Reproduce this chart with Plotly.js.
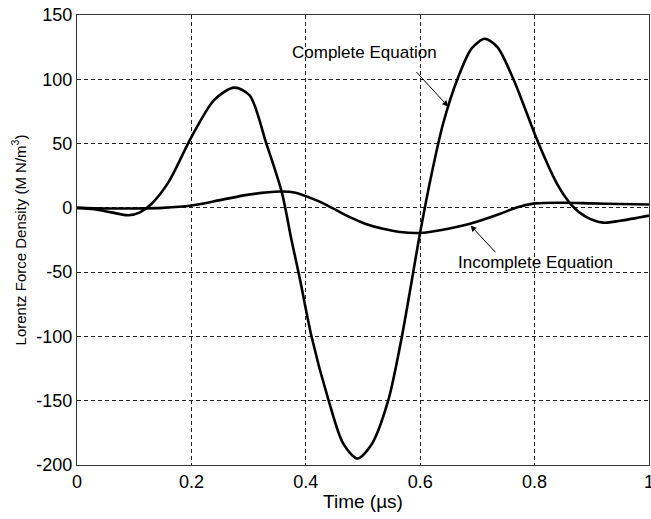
<!DOCTYPE html>
<html>
<head>
<meta charset="utf-8">
<script src="https://cdn.plot.ly/plotly-3.0.1.min.js"></script>
<style>html,body{margin:0;padding:0;background:#fff;}#chart{width:651px;height:519px;}</style>
</head>
<body>
<div id="chart"></div>
<script>
const completeT = [0, 0.03, 0.06, 0.09, 0.11, 0.13, 0.16, 0.2, 0.24, 0.275, 0.302, 0.331, 0.358, 0.375, 0.39, 0.41, 0.44, 0.465, 0.49, 0.515, 0.544, 0.568, 0.6, 0.62, 0.64, 0.665, 0.69, 0.713, 0.735, 0.763, 0.807, 0.84, 0.865, 0.89, 0.92, 0.95, 1.0];
const completeF = [0, -1, -3.5, -5.8, -3.5, 3, 20, 55, 84, 93.5, 87.4, 50, 12.2, -25, -56, -100, -150, -183, -195, -184, -150, -100, -19, 26.5, 65.4, 100, 124, 131.5, 125, 100, 50, 18, 2, -7, -11.5, -10, -6];
const incompleteT = [0, 0.05, 0.1, 0.15, 0.2, 0.25, 0.3, 0.355, 0.38, 0.419, 0.45, 0.477, 0.505, 0.535, 0.565, 0.6, 0.64, 0.687, 0.74, 0.77, 0.8, 0.85, 0.9, 0.95, 1.0];
const incompleteF = [0, -0.5, -0.5, 0, 1.8, 6, 10.3, 12.7, 12, 5.8, -1, -7.2, -12.5, -16.3, -18.8, -19.5, -17, -12.4, -4.6, 0.5, 3.5, 4, 3.5, 3, 2.6];
const xTicks = [0, 0.2, 0.4, 0.6, 0.8, 1];
const xTickText = ['0', '0.2', '0.4', '0.6', '0.8', '1'];
const yTicks = [150, 100, 50, 0, -50, -100, -150, -200];
const yTickText = ['150', '100', '50', '0', '-50', '-100', '-150', '-200'];

const lineStyle = {color: '#000', width: 2.6, shape: 'spline', smoothing: 0.8};
const traces = [
  {x: completeT, y: completeF, mode: 'lines', line: lineStyle, name: 'Complete Equation'},
  {x: incompleteT, y: incompleteF, mode: 'lines', line: lineStyle, name: 'Incomplete Equation'}
];
const font = 'Liberation Sans, Arial, Helvetica, sans-serif';
const axisCommon = {
  showline: true, mirror: true, linecolor: '#333', linewidth: 1.2,
  showgrid: true, gridcolor: '#222', gridwidth: 1, griddash: '4px,3px',
  zeroline: false, ticks: '', ticklabeloverflow: 'allow',
  tickfont: {family: font, size: 18, color: '#000'}
};
const layout = {
  width: 651, height: 519,
  margin: {l: 77, r: 2, t: 15, b: 54},
  paper_bgcolor: '#fff', plot_bgcolor: '#fff',
  showlegend: false,
  xaxis: Object.assign({}, axisCommon, {
    range: [0, 1], tickvals: xTicks, ticktext: xTickText,
    title: {text: 'Time (µs)', font: {family: font, size: 19, color: '#000'}, standoff: 4}
  }),
  yaxis: Object.assign({}, axisCommon, {
    range: [-200, 150], tickvals: yTicks, ticktext: yTickText,
    title: {text: 'Lorentz Force Density (M N/m<sup>3</sup>)', font: {family: font, size: 15, color: '#000'}, standoff: 6}
  }),
  annotations: [
    {x: 0.503, y: 121, xref: 'x', yref: 'y', text: 'Complete Equation', showarrow: false,
     font: {family: font, size: 17, color: '#000'}},
    {x: 0.649, y: 78.8, ax: 0.591, ay: 106.8, axref: 'x', ayref: 'y', xref: 'x', yref: 'y', text: '',
     showarrow: true, arrowhead: 2, arrowsize: 1.2, arrowwidth: 1, arrowcolor: '#000'},
    {x: 0.802, y: -42.2, xref: 'x', yref: 'y', text: 'Incomplete Equation', showarrow: false,
     font: {family: font, size: 17, color: '#000'}},
    {x: 0.688, y: -13.7, ax: 0.734, ay: -35.7, axref: 'x', ayref: 'y', xref: 'x', yref: 'y', text: '',
     showarrow: true, arrowhead: 2, arrowsize: 1.2, arrowwidth: 1, arrowcolor: '#000'}
  ]
};
Plotly.newPlot('chart', traces, layout, {displayModeBar: false, staticPlot: true});
</script>
</body>
</html>
